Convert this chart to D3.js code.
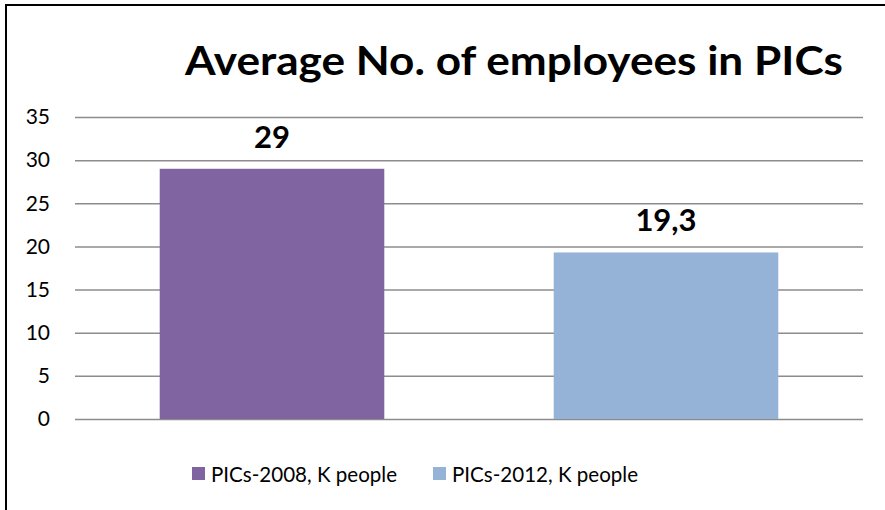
<!DOCTYPE html>
<html>
<head>
<meta charset="utf-8">
<script src="https://cdn.jsdelivr.net/npm/d3@7"></script>
<style>
  html, body { margin: 0; padding: 0; background: #fff; }
  svg { display: block; }
  text { font-family: Lato, "Open Sans", sans-serif; fill: #000; }
</style>
</head>
<body>
<div id="chart"></div>
<script>
// chart data
var title = 'Average No. of employees in PICs';
var seriesNames = ['PICs-2008, K people', 'PICs-2012, K people'];
var seriesValues = [29, 19.3];
var valueLabels = ['29', '19,3'];
var yTicks = [0, 5, 10, 15, 20, 25, 30, 35];
var seriesColors = ['#8064A2', '#95B3D7'];

var W = 885, H = 510;
var plot = { left: 75, right: 863, top: 117, bottom: 419 };

var svg = d3.select('#chart').append('svg')
  .attr('width', W)
  .attr('height', H);

// outer frame (only left/top edges visible in window)
svg.append('rect')
  .attr('x', 6).attr('y', 5)
  .attr('width', W + 10).attr('height', H + 10)
  .attr('fill', 'none')
  .attr('stroke', '#000')
  .attr('stroke-width', 2);

var y = d3.scaleLinear().domain([0, 35]).range([plot.bottom, plot.top]);
var x = d3.scaleBand().domain(seriesNames)
  .range([plot.left, plot.right])
  .paddingInner(0.43)
  .paddingOuter(0.215);

// gridlines + tick labels
var yAxis = d3.axisLeft(y).tickValues(yTicks)
  .tickSize(-(plot.right - plot.left))
  .tickPadding(25)
  .tickFormat(d3.format('d'));

var g = svg.append('g')
  .attr('transform', 'translate(' + plot.left + ',0)')
  .call(yAxis);
g.select('.domain').remove();
g.selectAll('.tick line')
  .attr('stroke', '#8c8c8c')
  .attr('stroke-width', 1.5);
g.selectAll('.tick text')
  .style('font-family', 'Lato, "Open Sans", sans-serif')
  .style('font-size', '21px')
  .attr('fill', '#000');

// bars
svg.selectAll('rect.bar').data(seriesValues).enter().append('rect')
  .attr('class', 'bar')
  .attr('x', function(d, i) { return x(seriesNames[i]); })
  .attr('y', function(d) { return y(d); })
  .attr('width', x.bandwidth())
  .attr('height', function(d) { return y(0) - y(d); })
  .attr('fill', function(d, i) { return seriesColors[i]; });

// value labels
svg.selectAll('text.val').data(seriesValues).enter().append('text')
  .attr('class', 'val')
  .attr('x', function(d, i) { return x(seriesNames[i]) + x.bandwidth() / 2; })
  .attr('y', function(d) { return y(d) - 21; })
  .attr('text-anchor', 'middle')
  .style('font-size', '31px')
  .style('font-weight', 'bold')
  .text(function(d, i) { return valueLabels[i]; });

// title
svg.append('text')
  .attr('x', 185)
  .attr('y', 75)
  .attr('textLength', 658)
  .attr('lengthAdjust', 'spacingAndGlyphs')
  .style('font-size', '41px')
  .style('font-weight', 'bold')
  .text(title);

// legend
var legendX = [192, 433];
var legend = svg.selectAll('g.leg').data(seriesNames).enter().append('g')
  .attr('class', 'leg')
  .attr('transform', function(d, i) { return 'translate(' + legendX[i] + ',467)'; });
legend.append('rect')
  .attr('width', 13).attr('height', 13)
  .attr('fill', function(d, i) { return seriesColors[i]; });
legend.append('text')
  .attr('x', 19)
  .attr('y', 15)
  .attr('textLength', 186)
  .attr('lengthAdjust', 'spacingAndGlyphs')
  .style('font-size', '20.5px')
  .text(function(d) { return d; });
</script>
</body>
</html>
